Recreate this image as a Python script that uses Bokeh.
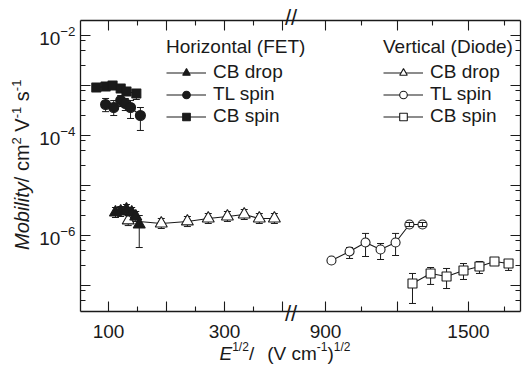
import math
from bokeh.plotting import figure
from bokeh.models import (Range1d, LinearAxis, LogAxis, FixedTicker, Whisker, TeeHead,
                          ColumnDataSource, Legend, LegendItem, Div)
from bokeh.layouts import row, column
from bokeh.embed import file_html
from bokeh.resources import INLINE

# ---------------- data (E^1/2 in (V/cm)^1/2, mobility in cm2/Vs) ----------------
# Horizontal (FET)
h_cbdrop_x = [112, 121, 131, 140, 147, 153]
h_cbdrop_y = [2.88e-6, 3.02e-6, 3.31e-6, 2.88e-6, 2.40e-6, 1.66e-6]
h_cbdrop_lo = [2.29e-6, 2.40e-6, 2.63e-6, 2.29e-6, 1.91e-6, 5.75e-7]
h_cbdrop_hi = [3.63e-6, 3.80e-6, 4.17e-6, 3.63e-6, 3.02e-6, 2.51e-6]

h_tlspin_x = [95, 109, 121, 129, 138, 155]
h_tlspin_y = [4.17e-4, 3.63e-4, 5.01e-4, 4.37e-4, 3.63e-4, 2.51e-4]
h_tlspin_lo = [3.0e-4, 2.51e-4, 3.8e-4, 3.16e-4, 2.19e-4, 1.26e-4]
h_tlspin_hi = [5.5e-4, 5.0e-4, 6.3e-4, 5.5e-4, 5.0e-4, 3.63e-4]

h_cbspin_x = [79, 95, 107, 121, 131, 148]
h_cbspin_y = [9.12e-4, 9.55e-4, 1.0e-3, 8.7e-4, 7.6e-4, 6.9e-4]
h_cbspin_lo = [8.3e-4, 8.7e-4, 9.1e-4, 7.9e-4, 6.9e-4, 5.25e-4]
h_cbspin_hi = [1.0e-3, 1.05e-3, 1.1e-3, 9.5e-4, 8.3e-4, 7.6e-4]

# Vertical (Diode)
v_cbdrop_x = [134, 191, 236, 272, 305, 334, 360, 386]
v_cbdrop_y = [2.0e-6, 1.74e-6, 1.91e-6, 2.19e-6, 2.40e-6, 2.63e-6, 2.19e-6, 2.19e-6]
v_cbdrop_lo = [1.58e-6, 1.38e-6, 1.51e-6, 1.74e-6, 1.91e-6, 2.09e-6, 1.74e-6, 1.74e-6]
v_cbdrop_hi = [2.51e-6, 2.19e-6, 2.40e-6, 2.75e-6, 3.02e-6, 3.31e-6, 2.75e-6, 2.75e-6]

v_tlspin_x = [925, 1001, 1068, 1131, 1194, 1252, 1307]
v_tlspin_y = [3.16e-7, 4.79e-7, 7.24e-7, 5.25e-7, 7.24e-7, 1.66e-6, 1.66e-6]
v_tlspin_err_x = [1001, 1068, 1131, 1194]
v_tlspin_lo = [3.47e-7, 3.80e-7, 3.31e-7, 3.98e-7]
v_tlspin_hi = [5.75e-7, 1.10e-6, 6.92e-7, 1.10e-6]
v_tlspin_small_x = [1252, 1307]
v_tlspin_small_lo = [1.51e-6, 1.51e-6]
v_tlspin_small_hi = [1.82e-6, 1.82e-6]

v_cbspin_x = [1265, 1341, 1408, 1479, 1546, 1609, 1668]
v_cbspin_y = [1.10e-7, 1.74e-7, 1.51e-7, 2.0e-7, 2.40e-7, 3.02e-7, 2.75e-7]
v_cbspin_lo = [4.37e-8, 1.05e-7, 8.7e-8, 1.32e-7, 1.74e-7, 2.51e-7, 2.0e-7]
v_cbspin_hi = [1.74e-7, 2.29e-7, 2.19e-7, 2.75e-7, 3.02e-7, 3.47e-7, 3.16e-7]

# ticks
x_major = [100, 200, 300, 400, 900, 1200, 1500]
x_minor = [150, 250, 350, 1050, 1350, 1650]
x_tick_labels = {100: "100", 300: "300", 900: "900", 1500: "1500"}
y_major = [1e-2, 1e-3, 1e-4, 1e-5, 1e-6, 1e-7]
y_unlabeled = [1e-3, 1e-5, 1e-7]
y_minor = [5e-8, 8e-8, 2.5e-7, 5e-7, 8e-7, 2.5e-6, 5e-6, 8e-6, 2.5e-5, 5e-5, 8e-5,
           2.5e-4, 5e-4, 8e-4, 2.5e-3, 5e-3, 8e-3]

# ---------------- geometry ----------------
YLAB_W = 36                 # left column holding the y title
FRAME_W, FRAME_H = 440, 291
BORDER_L, BORDER_R, BORDER_T, BORDER_B = 41, 9, 20, 36
FIG_H = BORDER_T + FRAME_H + BORDER_B
LEFT_SCALE = 0.58           # px per unit, left segment
RIGHT_SCALE = 143.0 / 600   # px per unit, right segment


def to_u(v):
    if v < 600:
        return 28 + (v - 100) * LEFT_SCALE
    return 245 + (v - 900) * RIGHT_SCALE


FONT = "Liberation Sans"
INK = "#1a1a1a"

p = figure(frame_width=FRAME_W, frame_height=FRAME_H,
           x_range=Range1d(0, FRAME_W), y_range=Range1d(10 ** -7.52, 10 ** -1.7),
           y_axis_type="log", output_backend="svg", toolbar_location=None,
           min_border_left=BORDER_L, min_border_right=BORDER_R,
           min_border_top=BORDER_T, min_border_bottom=BORDER_B)
p.outline_line_color = None
p.xgrid.visible = False
p.ygrid.visible = False
p.background_fill_color = "white"
p.border_fill_color = "white"

xt = FixedTicker(ticks=[to_u(v) for v in x_major], minor_ticks=[to_u(v) for v in x_minor])
yt = FixedTicker(ticks=y_major, minor_ticks=y_minor)

x_over = {to_u(v): x_tick_labels.get(v, "") for v in x_major}
y_over = {v: "" for v in y_unlabeled}


def style_axis(ax, labels=True, fs="19px", standoff=13):
    ax.axis_line_color = INK
    ax.axis_line_width = 1.3
    ax.major_tick_line_color = INK
    ax.minor_tick_line_color = INK
    ax.major_tick_line_width = 1.1
    ax.minor_tick_line_width = 1.1
    ax.major_tick_in = 10
    ax.major_tick_out = 0
    ax.minor_tick_in = 5
    ax.minor_tick_out = 0
    ax.major_label_text_font = FONT
    ax.major_label_text_color = INK
    if labels:
        ax.major_label_text_font_size = fs
        ax.major_label_standoff = standoff
    else:
        ax.major_label_text_font_size = "2px"
        ax.major_label_text_alpha = 0
        ax.major_label_standoff = 0


bx = p.xaxis[0]
bx.ticker = xt
bx.major_label_overrides = x_over
style_axis(bx, True, "19px", 13)

ly = p.yaxis[0]
ly.ticker = yt
ly.major_label_overrides = y_over
style_axis(ly, True, "19px", 5)

top = LinearAxis(ticker=xt)
style_axis(top, False)
p.add_layout(top, "above")

right = LogAxis(ticker=yt)
style_axis(right, False)
p.add_layout(right, "right")


def whiskers(xs, lo, hi, level="underlay"):
    src = ColumnDataSource(dict(x=[to_u(v) for v in xs], lo=lo, hi=hi))
    w = Whisker(base="x", lower="lo", upper="hi", source=src, dimension="height", level=level,
                line_color=INK, line_width=1,
                upper_head=TeeHead(size=7, line_color=INK, line_width=1),
                lower_head=TeeHead(size=7, line_color=INK, line_width=1))
    p.add_layout(w)


def series(xs, ys, marker, size, fill):
    src = ColumnDataSource(dict(x=[to_u(v) for v in xs], y=ys))
    lr = p.line("x", "y", source=src, line_color=INK, line_width=1.1)
    sr = p.scatter("x", "y", source=src, marker=marker, size=size, fill_color=fill,
                   line_color=INK, line_width=1.1)
    return lr, sr


whiskers(h_cbdrop_x, h_cbdrop_lo, h_cbdrop_hi)
whiskers(h_tlspin_x, h_tlspin_lo, h_tlspin_hi)
whiskers(h_cbspin_x, h_cbspin_lo, h_cbspin_hi)
whiskers(v_cbdrop_x, v_cbdrop_lo, v_cbdrop_hi)
whiskers(v_tlspin_err_x, v_tlspin_lo, v_tlspin_hi)
whiskers(v_cbspin_x, v_cbspin_lo, v_cbspin_hi)

r_vcbdrop = series(v_cbdrop_x, v_cbdrop_y, "triangle", 12, "white")
r_vtlspin = series(v_tlspin_x, v_tlspin_y, "circle", 9, "white")
r_vcbspin = series(v_cbspin_x, v_cbspin_y, "square", 9, "white")
r_hcbdrop = series(h_cbdrop_x, h_cbdrop_y, "triangle", 12, INK)
r_htlspin = series(h_tlspin_x, h_tlspin_y, "circle", 10, INK)
r_hcbspin = series(h_cbspin_x, h_cbspin_y, "square", 9, INK)

whiskers(v_tlspin_small_x, v_tlspin_small_lo, v_tlspin_small_hi, level="overlay")


def make_legend(title, items, x, y):
    lg = Legend(items=[LegendItem(label=lab, renderers=list(rs)) for lab, rs in items],
                location=(x, y), title=title,
                title_text_font=FONT, title_text_font_size="19px", title_text_font_style="normal",
                title_text_color=INK, title_standoff=3, title_text_line_height=1.0,
                label_text_font=FONT, label_text_font_size="19px", label_text_color=INK,
                label_text_line_height=1.0,
                glyph_width=40, glyph_height=19, label_height=19, label_standoff=7,
                spacing=0, padding=0, margin=0,
                border_line_color=None, background_fill_alpha=0)
    p.add_layout(lg)


make_legend("Horizontal (FET)", [("CB drop", r_hcbdrop), ("TL spin", r_htlspin),
                                 ("CB spin", r_hcbspin)], 86, 184)
make_legend("Vertical (Diode)", [("CB drop", r_vcbdrop), ("TL spin", r_vtlspin),
                                 ("CB spin", r_vcbspin)], 303, 184)

# ---------------- axis titles (HTML text with italics and superscripts) ----------------
SUP = "font-size:{fs}px;position:relative;top:-{r}px;"
ytitle_html = (
    f'<div style="position:relative;width:{YLAB_W}px;height:370px;">'
    f'<span style="position:absolute;left:12px;top:250px;transform:rotate(-90deg);'
    f'transform-origin:0 0;white-space:nowrap;font-family:\'{FONT}\';font-size:20px;'
    f'line-height:20px;color:{INK};">'
    f'<i>Mobility</i>/ cm<span style="{SUP.format(fs=13, r=8)}">2</span>'
    f' V<span style="{SUP.format(fs=13, r=8)}">-1</span>'
    f' s<span style="{SUP.format(fs=13, r=8)}">-1</span></span></div>'
)

XDIV_H = 370 - FIG_H
xtitle_html = (
    f'<div style="position:relative;width:{BORDER_L + FRAME_W + BORDER_R}px;height:{XDIV_H}px;">'
    f'<span style="position:absolute;left:{219.5 - YLAB_W}px;top:0px;white-space:nowrap;'
    f'font-family:\'{FONT}\';font-size:19px;line-height:13px;color:{INK};">'
    f'<i>E</i><span style="{SUP.format(fs=12, r=9)}">1/2</span>/'
    f'<span style="margin-left:13px;">(V cm</span>'
    f'<span style="{SUP.format(fs=12, r=9)}">-1</span>)'
    f'<span style="{SUP.format(fs=12, r=9)}">1/2</span></span>'
    # axis-break marks drawn over the top and bottom axis lines
    f'<span style="position:absolute;left:{285 - YLAB_W}px;top:{7 - FIG_H}px;'
    f'font-family:\'{FONT}\';font-size:22px;line-height:22px;color:{INK};">//</span>'
    f'<span style="position:absolute;left:{285 - YLAB_W}px;top:{303.3 - FIG_H}px;'
    f'font-family:\'{FONT}\';font-size:22px;line-height:22px;color:{INK};">//</span>'
    f'</div>'
)

ydiv = Div(text=ytitle_html, width=YLAB_W, height=370, margin=0)
xdiv = Div(text=xtitle_html, width=BORDER_L + FRAME_W + BORDER_R, height=XDIV_H, margin=0)

layout = row(ydiv, column(p, xdiv, spacing=0), spacing=0)

open("out.html", "w").write(file_html(layout, INLINE))
